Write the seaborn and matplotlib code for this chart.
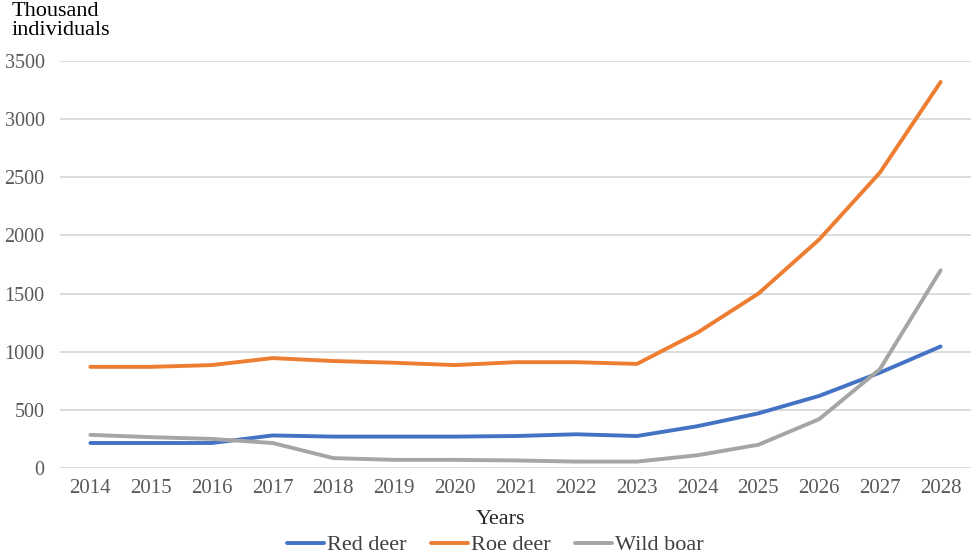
import numpy as np
import pandas as pd
import seaborn as sns
import matplotlib.pyplot as plt

years = list(range(2014, 2029))
red_deer = [215, 215, 215, 280, 270, 270, 270, 275, 290, 275, 360, 470, 620, 820, 1045]
roe_deer = [870, 870, 885, 945, 920, 905, 885, 910, 910, 895, 1165, 1500, 1965, 2540, 3320]
wild_boar = [285, 265, 250, 215, 85, 70, 70, 65, 55, 55, 110, 200, 420, 850, 1700]

series = ['Red deer', 'Roe deer', 'Wild boar']
colors = ['#4472C4', '#ED7D31', '#A5A5A5']

df = pd.DataFrame({
    'Year': years * 3,
    'Value': red_deer + roe_deer + wild_boar,
    'Species': [s for s in series for _ in years],
})

sns.set_style('white')
plt.rcParams['font.family'] = ['Liberation Serif', 'DejaVu Serif']

fig = plt.figure(figsize=(9.71, 5.54), dpi=100)
ax = fig.add_axes([60 / 971, 1 - 468 / 554, 911 / 971, 407 / 554])

sns.lineplot(data=df, x='Year', y='Value', hue='Species', palette=colors,
             linewidth=2.8, ax=ax, legend=False, solid_capstyle='round')

ax.set_xlim(2013.5, 2028.5)
ax.set_ylim(0, 3500)
ax.set_xticks(years)
ax.set_yticks(np.arange(0, 3501, 500))
ax.tick_params(axis='x', labelsize=15, labelcolor='#595959', length=0, pad=8)
ax.tick_params(axis='y', labelsize=14.5, labelcolor='#595959', length=0, pad=11)
ax.grid(axis='y', color='#D9D9D9', linewidth=1.3)
ax.set_axisbelow(True)
for s in ax.spines.values():
    s.set_visible(False)
ax.set_xlabel('')
ax.set_ylabel('')

fig.text(12 / 971, 1 - 2 / 554, 'Thousand\nindividuals', ha='left', va='top',
         fontsize=16, linespacing=1.0, color='black')
fig.text(500 / 971, 1 - 519 / 554, 'Years', ha='center', va='center', fontsize=16)

handles = [plt.Line2D([], [], color=c, linewidth=2.8) for c in colors]
fig.legend(handles, series, loc='center', bbox_to_anchor=(495 / 971, 1 - 545 / 554),
           ncol=3, frameon=False, fontsize=16, handlelength=1.7, handletextpad=0.1,
           columnspacing=1.1, labelcolor='#404040')

fig.savefig('out.png', dpi=100)
